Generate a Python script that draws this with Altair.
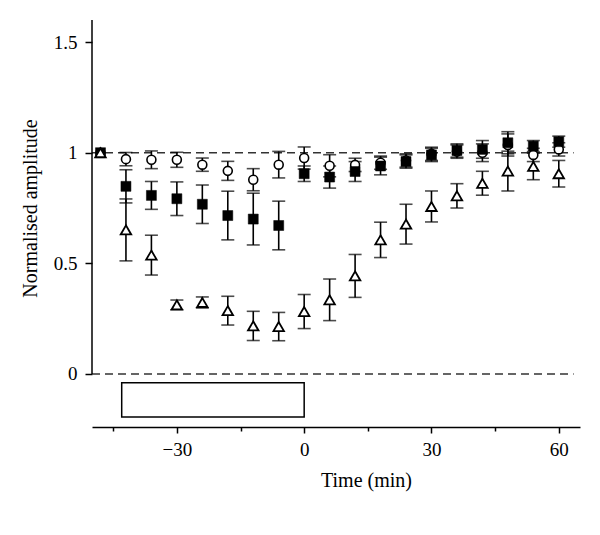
import altair as alt
import pandas as pd

# ---- data ----
times = [-48, -42, -36, -30, -24, -18, -12, -6, 0, 6, 12, 18, 24, 30, 36, 42, 48, 54, 60]
circle_vals = [1.0, 0.971, 0.968, 0.968, 0.946, 0.918, 0.878, 0.946, 0.976, 0.941, 0.945,
               0.955, 0.965, 0.995, 1.005, 1.0, 1.035, 0.99, 1.015]
circle_err = [0, 0.03, 0.04, 0.034, 0.03, 0.043, 0.05, 0.06, 0.05, 0.05, 0.03,
              0.03, 0.03, 0.03, 0.03, 0.04, 0.05, 0.03, 0.03]
square_vals = [1.0, 0.848, 0.807, 0.792, 0.767, 0.716, 0.700, 0.671, 0.905, 0.89, 0.915,
               0.94, 0.96, 0.99, 1.01, 1.015, 1.045, 1.03, 1.05]
square_err = [0, 0.075, 0.063, 0.076, 0.087, 0.11, 0.117, 0.11, 0.035, 0.05, 0.045,
              0.04, 0.03, 0.03, 0.03, 0.04, 0.05, 0.025, 0.025]
triangle_vals = [1.0, 0.651, 0.537, 0.312, 0.323, 0.286, 0.217, 0.214, 0.282, 0.335, 0.443,
                 0.606, 0.677, 0.757, 0.805, 0.862, 0.917, 0.938, 0.905]
triangle_err = [0, 0.14, 0.09, 0.022, 0.025, 0.065, 0.066, 0.064, 0.077, 0.094, 0.097,
                0.08, 0.09, 0.07, 0.055, 0.054, 0.09, 0.06, 0.06]

ref_levels = [1, 0]
ref_start, ref_end = -50, 63.5
bar_start, bar_end = -43, 0
bar_low, bar_high = -0.195, -0.04
x_domain = [-50, 65]
y_domain = [-0.24, 1.6]
y_ticks = [0, 0.5, 1, 1.5]
x_ticks = [-45, -30, -15, 0, 15, 30, 45, 60]

FONT = "Liberation Serif"

rows = []
for name, vals, errs in [("circle", circle_vals, circle_err),
                         ("square", square_vals, square_err),
                         ("triangle", triangle_vals, triangle_err)]:
    for t, v, e in zip(times, vals, errs):
        rows.append({"series": name, "time": t, "value": v, "err": e})
df = pd.DataFrame(rows)

x_axis = alt.Axis(values=x_ticks, grid=False, domain=True, domainColor="black",
                  domainWidth=1.5, tickColor="black", tickWidth=1.5,
                  tickSize={"condition": {"test": "datum.value % 30 === 0", "value": 6}, "value": 4},
                  labelExpr="datum.value % 30 === 0 ? datum.label : ''",
                  labelPadding=7, title="Time (min)", titleX=274, titleY=59,
                  titleBaseline="alphabetic", titleAlign="center")
y_axis = alt.Axis(values=y_ticks, grid=False, domain=False, tickColor="black",
                  tickWidth=1.5, tickSize=7, labelPadding=8, format="~g",
                  title="Normalised amplitude", titleX=-62, titleY=188,
                  titleAlign="center", titleBaseline="middle", titleAngle=270)


def xq(field):
    return alt.X(field, type="quantitative",
                 scale=alt.Scale(domain=x_domain, nice=False, zero=False), axis=x_axis)


def yq(field):
    return alt.Y(field, type="quantitative",
                 scale=alt.Scale(domain=y_domain, nice=False, zero=False), axis=y_axis)


base = alt.Chart(df)

err_df = base.transform_filter("datum.err > 0").transform_calculate(
    lo="datum.value - datum.err", hi="datum.value + datum.err")

err_rules = err_df.mark_rule(color="black", strokeWidth=1.6).encode(
    x=xq("time"), y=yq("lo"), y2="hi:Q")
caps_lo = err_df.mark_tick(orient="horizontal", color="black", size=13, thickness=1.6).encode(
    x=xq("time"), y=yq("lo"))
caps_hi = err_df.mark_tick(orient="horizontal", color="black", size=13, thickness=1.6).encode(
    x=xq("time"), y=yq("hi"))

circles = base.transform_filter("datum.series === 'circle'").mark_point(
    shape="circle", size=80, filled=True, fill="white", stroke="black",
    strokeWidth=1.6, opacity=1).encode(x=xq("time"), y=yq("value"))
squares = base.transform_filter("datum.series === 'square'").mark_point(
    shape="square", size=100, filled=True, fill="black", stroke="black",
    strokeWidth=0.5, opacity=1).encode(x=xq("time"), y=yq("value"))
triangles = base.transform_filter("datum.series === 'triangle'").mark_point(
    shape="triangle-up", size=110, filled=True, fill="white", stroke="black",
    strokeWidth=1.8, opacity=1).encode(x=xq("time"), y=yq("value"))

ref_df = pd.DataFrame({"y": ref_levels, "x0": [ref_start] * len(ref_levels),
                       "x1": [ref_end] * len(ref_levels)})
ref_lines = alt.Chart(ref_df).mark_rule(color="#333333", strokeDash=[8, 5], strokeWidth=1.5).encode(
    x=xq("x0"), x2="x1:Q", y=yq("y"))

yline_df = pd.DataFrame({"x": [x_domain[0]], "y0": [0], "y1": [y_domain[1]]})
y_line = alt.Chart(yline_df).mark_rule(color="black", strokeWidth=1.5).encode(
    x=xq("x"), y=yq("y0"), y2="y1:Q")

bar_df = pd.DataFrame({"x0": [bar_start], "x1": [bar_end], "y0": [bar_low], "y1": [bar_high]})
treat_bar = alt.Chart(bar_df).mark_rect(fill="white", stroke="black", strokeWidth=1.5).encode(
    x=xq("x0"), x2="x1:Q", y=yq("y0"), y2="y1:Q")

chart = alt.layer(
    ref_lines, y_line, treat_bar, err_rules, caps_lo, caps_hi, circles, squares, triangles
).properties(
    width=488, height=407,
    autosize=alt.AutoSizeParams(type="none"),
    padding={"left": 84, "top": 12, "right": 12, "bottom": 100},
    background="white",
).configure_view(stroke=None).configure_axis(
    labelFont=FONT, labelFontSize=19, labelColor="black",
    titleFont=FONT, titleFontSize=20, titleFontWeight="normal", titleColor="black",
)

chart.save("out.html", embed_options={"renderer": "svg", "actions": False})
